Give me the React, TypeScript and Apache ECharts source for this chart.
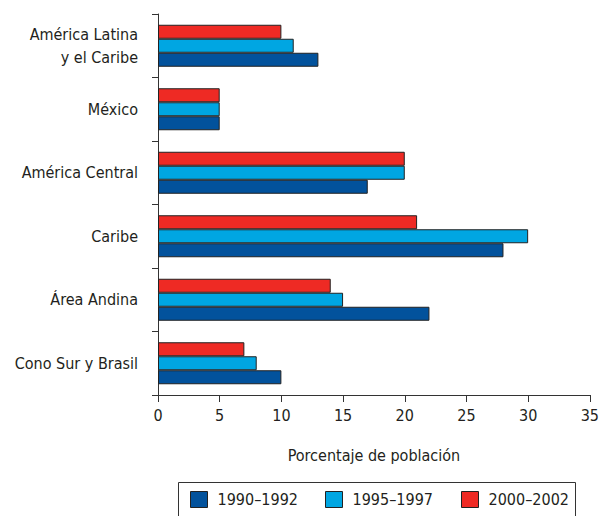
import React, { useEffect, useRef } from "react";
import * as echarts from "echarts";

const categories = [
  "Cono Sur y Brasil",
  "Área Andina",
  "Caribe",
  "América Central",
  "México",
  "América Latina\ny el Caribe",
];
const seriesNames = ["1990–1992", "1995–1997", "2000–2002"];
const values1990 = [10, 22, 28, 17, 5, 13];
const values1995 = [8, 15, 30, 20, 5, 11];
const values2000 = [7, 14, 21, 20, 5, 10];
const xTicks = [0, 35, 5];
const colors = ["#02529c", "#00a6e2", "#ee2a24"];

const FONT = "'Liberation Sans Narrow', 'DejaVu Sans Condensed', 'Roboto', sans-serif";
const TEXT = "#231f20";

export default function App() {
  const ref = useRef<HTMLDivElement>(null);
  useEffect(() => {
    if (!ref.current) return;
    const chart = echarts.init(ref.current, null, { renderer: "svg" });
    const data = [values1990, values1995, values2000];
    const legendLefts = [190, 325, 461];
    // ECharts stacks horizontal groups with the first series on top, so list the newest first
    const order = [2, 1, 0];
    chart.setOption({
      animation: false,
      textStyle: { fontFamily: FONT, color: TEXT },
      grid: { left: 158, right: 8, top: 14, bottom: 121, containLabel: false },
      xAxis: {
        type: "value",
        min: xTicks[0],
        max: xTicks[1],
        interval: xTicks[2],
        name: "Porcentaje de población",
        nameLocation: "middle",
        nameGap: 52,
        nameTextStyle: { fontFamily: FONT, fontSize: 16, color: TEXT },
        axisLine: { show: true, lineStyle: { color: "#333", width: 1 } },
        axisTick: { show: true, length: 7, lineStyle: { color: "#333" } },
        axisLabel: { fontFamily: FONT, fontSize: 16, color: TEXT, margin: 12 },
        splitLine: { show: false },
      },
      yAxis: {
        type: "category",
        data: categories,
        axisLine: { show: true, lineStyle: { color: "#333", width: 1 } },
        axisTick: { show: true, length: 6, alignWithLabel: false, lineStyle: { color: "#333" } },
        axisLabel: {
          fontFamily: FONT,
          fontSize: 16,
          color: TEXT,
          margin: 20,
          lineHeight: 23,
          align: "right",
        },
      },
      legend: seriesNames.map((n, i) => ({
        data: [n],
        left: legendLefts[i],
        top: 491,
        padding: 0,
        itemWidth: 17,
        itemHeight: 16,
        icon: "rect",
        itemStyle: { borderColor: "#222", borderWidth: 1 },
        textStyle: { fontFamily: FONT, fontSize: 16, color: TEXT, padding: [0, 0, 0, 5] },
      })),
      graphic: [
        {
          type: "rect",
          shape: { x: 178.5, y: 482.5, width: 397, height: 40 },
          style: { fill: "none", stroke: "#333", lineWidth: 1 },
          silent: true,
        },
      ],
      series: order.map((i) => ({
        name: seriesNames[i],
        type: "bar",
        data: data[i],
        barWidth: 14,
        barGap: "0%",
        itemStyle: { color: colors[i], borderColor: "#222", borderWidth: 1 },
      })),
    });
    return () => chart.dispose();
  }, []);
  return <div ref={ref} style={{ width: 602, height: 516, position: "absolute", left: 0, top: 0 }} />;
}
